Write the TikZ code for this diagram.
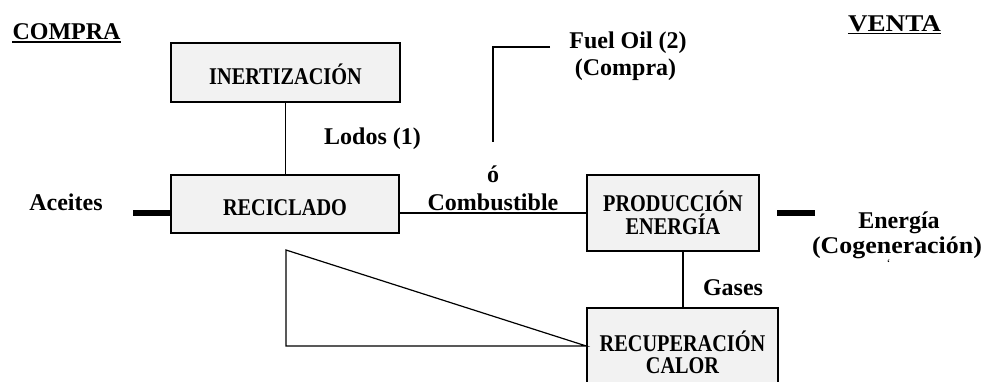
\documentclass[tikz,border=0pt]{standalone}
\usepackage{fontspec}
\setmainfont{Liberation Serif}
\newfontfamily\boxfont{Liberation Serif}[FakeStretch=0.845]
\newfontfamily\widefont{Liberation Serif}[FakeStretch=1.13]
\newfontfamily\semiwidefont{Liberation Serif}[FakeStretch=1.08]
\definecolor{boxgray}{RGB}{242,242,242}
\begin{document}
\begin{tikzpicture}[x=1pt,y=-1pt,
  box/.style={draw=black, line width=1.4pt, fill=boxgray, inner sep=0pt,
    font=\boxfont\bfseries\fontsize{24}{22.5}\selectfont, align=center},
  lbl/.style={inner sep=0pt, anchor=base, font=\bfseries\fontsize{24}{24}\selectfont},
  conn/.style={line width=1.2pt},
  bar/.style={line width=6pt},
  uline/.style={line width=1.6pt}]
\useasboundingbox (0,0) rectangle (984,381);
\clip (0,0) rectangle (984,381);
% boxes
\node[box, minimum width=229pt, minimum height=59pt, text height=23pt, text depth=0pt] (inert) at (285.5,72.5) {INERTIZACIÓN};
\node[box, minimum width=228pt, minimum height=58pt, text height=23pt, text depth=0pt] (recic) at (285,204) {RECICLADO};
\node[box, minimum width=172pt, minimum height=76pt] (prod) at (673,213) {PRODUCCIÓN\\ENERGÍA};
\node[box, minimum width=191pt, minimum height=89pt] (recup) at (682.5,352.5) {RECUPERACIÓN\\CALOR};
% connectors
\draw[conn] (inert.south) -- (inert.south |- recic.north);
\draw[conn] (recic.east |- prod.west) -- (prod.west);
\draw[conn] ([xshift=10pt]prod.south) -- ([xshift=10pt]prod.south |- recup.north);
\coordinate (tri) at (286,250);
\coordinate (apex) at ([yshift=6.5pt]recup.west);
\draw[conn, line join=miter] (tri) -- (tri |- apex) -- (apex) -- cycle;
\coordinate (fuelA) at (550,47);
\coordinate (fuelB) at (493,142);
\draw[conn] (fuelA) -- (fuelA -| fuelB) -- (fuelB);
\coordinate (aceEnd) at (133,213);
\draw[bar] (aceEnd) -- (recic.west |- aceEnd);
\coordinate (en1) at (777,213);
\coordinate (en2) at (815,213);
\draw[bar] (en1) -- (en2);
% labels
\node[lbl] (compra) at (66.5,39) {COMPRA};
\draw[uline] ([yshift=-3pt]compra.base west) -- ([yshift=-3pt]compra.base east);
\node[lbl, font=\widefont\bfseries\fontsize{24}{24}\selectfont] (venta) at (894.5,31) {VENTA};
\draw[uline] ([yshift=-2.5pt]venta.base west) -- ([yshift=-2.5pt]venta.base east);
\node[lbl] (fuel) at (628,48) {Fuel Oil (2)};
\node[lbl] (fuelc) at (625.5,75) {(Compra)};
\node[lbl] (lodos) at (372.5,144) {Lodos (1)};
\node[lbl] (o) at (493,182) {ó};
\node[lbl] (comb) at (493,210) {Combustible};
\node[lbl] (acei) at (66,210) {Aceites};
\node[lbl] (gases) at (733,295) {Gases};
\node[lbl] (energ) at (899,228) {Energía};
\node[lbl, font=\semiwidefont\bfseries\fontsize{24}{24}\selectfont] (cogen) at (897,253) {(Cogeneración)};
\node[inner sep=0pt, anchor=north, font=\fontsize{12}{12}\selectfont] (tick) at (888.5,259) {\symbol{96}};
\end{tikzpicture}
\end{document}
